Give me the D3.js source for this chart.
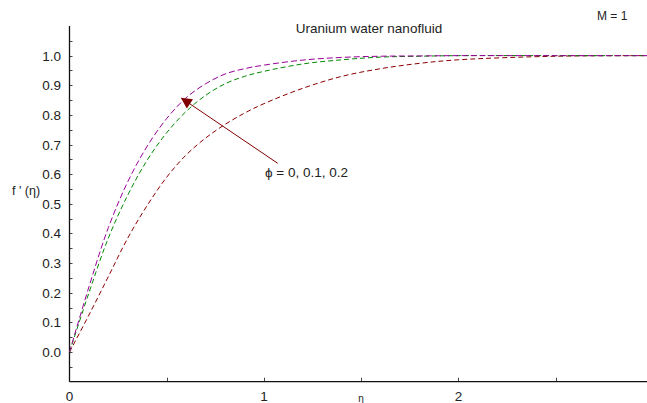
<!DOCTYPE html>
<html>
<head>
<meta charset="utf-8">
<script src="https://cdn.jsdelivr.net/npm/d3@7"></script>
<style>
  body { margin: 0; background: #fff; }
  text { font-family: "Liberation Sans", Arial, sans-serif; fill: #222; }
</style>
</head>
<body>
<div id="chart"></div>
<script>
// data
var etaValues = [0, 0.1, 0.2, 0.3, 0.4, 0.5, 0.6, 0.7, 0.8, 0.9, 1.0, 1.2, 1.4, 1.6, 1.8, 2.0, 2.5, 3.0];
var phi02 = [0, 0.22, 0.42, 0.575, 0.695, 0.788, 0.858, 0.905, 0.938, 0.956, 0.968, 0.985, 0.994, 0.998, 0.999, 1.0, 1.0, 1.0];
var phi01 = [0, 0.20, 0.385, 0.53, 0.648, 0.74, 0.812, 0.866, 0.905, 0.93, 0.947, 0.972, 0.986, 0.995, 0.998, 1.0, 1.0, 1.0];
var phi00 = [0, 0.125, 0.255, 0.385, 0.495, 0.59, 0.665, 0.722, 0.768, 0.806, 0.838, 0.89, 0.93, 0.956, 0.974, 0.986, 0.998, 1.0];
var yTickLabels = ["0.0", "0.1", "0.2", "0.3", "0.4", "0.5", "0.6", "0.7", "0.8", "0.9", "1.0"];
var xTickLabels = ["0", "1", "2"];

var series = [
  { name: "phi0", values: phi00, color: "#8b0000", dash: "5,3" },
  { name: "phi01", values: phi01, color: "#008800", dash: "5,3" },
  { name: "phi02", values: phi02, color: "#990099", dash: "6,3" }
];

var width = 647, height = 403;

var svg = d3.select("#chart").append("svg")
  .attr("width", width)
  .attr("height", height);

var x = d3.scaleLinear().domain([0, 2.97]).range([69.5, 647]);
var y = d3.scaleLinear().domain([-0.1, 1.1]).range([381.7, 26]);

// minor ticks on y axis, every 0.05
var yMinor = d3.range(-0.05, 1.1, 0.05);
svg.selectAll(".ytick")
  .data(yMinor)
  .enter()
  .append("line")
  .attr("x1", x(0))
  .attr("x2", x(0) + 3)
  .attr("y1", function(d) { return Math.round(y(d)) + 0.5; })
  .attr("y2", function(d) { return Math.round(y(d)) + 0.5; })
  .attr("stroke", "#444")
  .attr("stroke-width", 1);

// x ticks every 0.5
var xMinor = d3.range(0.5, 3, 0.5);
svg.selectAll(".xtick")
  .data(xMinor)
  .enter()
  .append("line")
  .attr("x1", function(d) { return Math.round(x(d)) + 0.5; })
  .attr("x2", function(d) { return Math.round(x(d)) + 0.5; })
  .attr("y1", y(-0.1))
  .attr("y2", y(-0.1) - 4)
  .attr("stroke", "#444")
  .attr("stroke-width", 1);

// axis lines
svg.append("line")
  .attr("x1", x(0)).attr("x2", x(0))
  .attr("y1", y(1.1)).attr("y2", y(-0.1))
  .attr("stroke", "#111").attr("stroke-width", 1.3);
svg.append("line")
  .attr("x1", x(0)).attr("x2", width)
  .attr("y1", y(-0.1)).attr("y2", y(-0.1))
  .attr("stroke", "#111").attr("stroke-width", 1.3);

// tick labels
svg.selectAll(".ylab")
  .data(yTickLabels)
  .enter()
  .append("text")
  .attr("x", 61)
  .attr("y", function(d) { return y(+d) + 5; })
  .attr("text-anchor", "end")
  .style("font-size", "13.5px")
  .text(function(d) { return d; });

svg.selectAll(".xlab")
  .data(xTickLabels)
  .enter()
  .append("text")
  .attr("x", function(d) { return x(+d); })
  .attr("y", 401)
  .attr("text-anchor", "middle")
  .style("font-size", "13.5px")
  .text(function(d) { return d; });

// curves
var line = d3.line()
  .x(function(d, i) { return x(etaValues[i]); })
  .y(function(d) { return y(d); })
  .curve(d3.curveCatmullRom.alpha(0.5));

svg.selectAll(".curve")
  .data(series)
  .enter()
  .append("path")
  .attr("d", function(d) { return line(d.values); })
  .attr("fill", "none")
  .attr("stroke", function(d) { return d.color; })
  .attr("stroke-width", 1)
  .attr("stroke-dasharray", function(d) { return d.dash; });

// arrow annotation
svg.append("defs").append("marker")
  .attr("id", "head")
  .attr("viewBox", "0 0 10 10")
  .attr("refX", 9)
  .attr("refY", 5)
  .attr("markerUnits", "userSpaceOnUse")
  .attr("markerWidth", 16)
  .attr("markerHeight", 11)
  .attr("orient", "auto")
  .append("path")
  .attr("d", "M0,0 L10,5 L0,10 Z")
  .attr("fill", "#800000");

svg.append("line")
  .attr("x1", 277.7).attr("y1", 163.3)
  .attr("x2", 181.7).attr("y2", 98.3)
  .attr("stroke", "#800000")
  .attr("stroke-width", 1)
  .attr("marker-end", "url(#head)");

svg.append("text")
  .attr("x", 265)
  .attr("y", 177)
  .style("font-size", "13.5px")
  .text("ϕ = 0, 0.1, 0.2");

// labels
svg.append("text")
  .attr("x", 369)
  .attr("y", 33)
  .attr("text-anchor", "middle")
  .style("font-size", "13.5px")
  .text("Uranium water nanofluid");

svg.append("text")
  .attr("x", 597)
  .attr("y", 20)
  .style("font-size", "12px")
  .text("M = 1");

svg.append("text")
  .attr("x", 12)
  .attr("y", 195)
  .style("font-size", "12.5px")
  .text("f ' (η)");

svg.append("text")
  .attr("x", 361)
  .attr("y", 402)
  .attr("text-anchor", "middle")
  .style("font-size", "10px")
  .text("η");
</script>
</body>
</html>
